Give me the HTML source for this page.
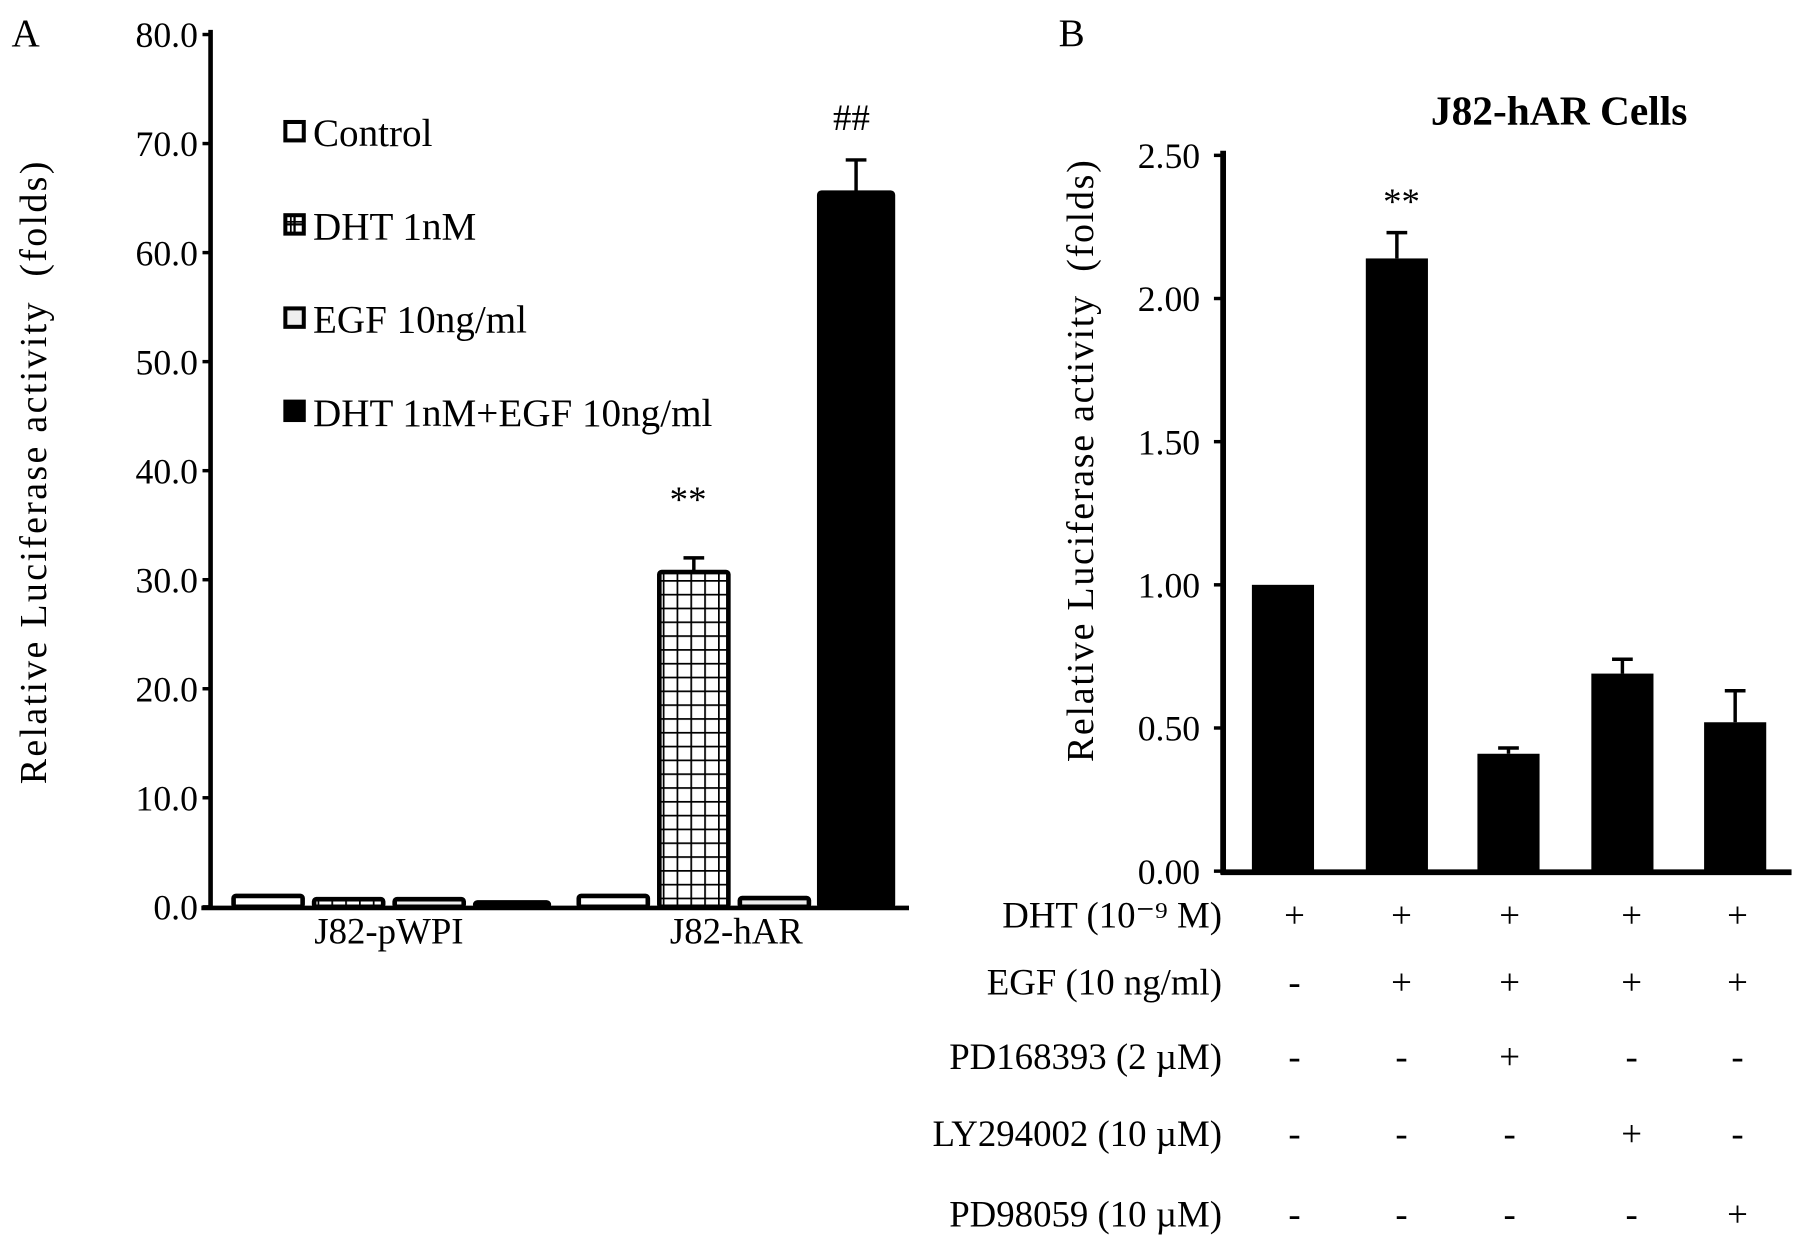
<!DOCTYPE html>
<html><head><meta charset="utf-8"><style>
html,body{margin:0;padding:0;background:#fff}
svg{display:block}
text{font-family:"Liberation Serif",serif;fill:#000}
</style></head><body>
<svg id="fig" width="1795" height="1244" viewBox="0 0 1560 1081" preserveAspectRatio="none" xmlns="http://www.w3.org/2000/svg">
<defs>
<pattern id="grid" width="12" height="12" patternUnits="userSpaceOnUse"><rect width="12" height="12" fill="#fff"/><path d="M0 0H12M0 0V12" stroke="#000" stroke-width="3"/></pattern>
</defs>
<g id="panelA"></g>
<g id="panelB"></g>
</svg>
<script>
// Panel A data
const aGroups = ["J82-pWPI", "J82-hAR"];
const aSeries = ["Control", "DHT 1nM", "EGF 10ng/ml", "DHT 1nM+EGF 10ng/ml"];
const aPWPI = [1.0, 0.7, 0.7, 0.4];
const aHAR = [1.0, 30.7, 0.8, 65.5];
const aHARerr = [0, 1.3, 0, 3.0];
const aTicks = ["0.0","10.0","20.0","30.0","40.0","50.0","60.0","70.0","80.0"];
// Panel B data
const bValues = [1.00, 2.14, 0.41, 0.69, 0.52];
const bErrors = [0, 0.09, 0.02, 0.05, 0.11];
const bTicks = ["0.00","0.50","1.00","1.50","2.00","2.50"];
const bRowLabels = ["DHT (10\u207B\u2079 M)", "EGF (10 ng/ml)", "PD168393 (2 \u00B5M)", "LY294002 (10 \u00B5M)", "PD98059 (10 \u00B5M)"];
const bRows = [["+","+","+","+","+"],["-","+","+","+","+"],["-","-","+","-","-"],["-","-","-","+","-"],["-","-","-","-","+"]];

const NS="http://www.w3.org/2000/svg";
function mk(parent,tag,attrs,txt){const e=document.createElementNS(NS,tag);for(const k in attrs)e.setAttribute(k,attrs[k]);if(txt!==undefined)e.textContent=txt;parent.appendChild(e);return e;}

// Panel A
const A=document.getElementById('panelA');
const ay=v=>788-(v/80)*(788-30);
const aSlot=[[203,273,343,413],[503,573,643,712]];
const aW=[60,60,60,64];
const fills=["#fff","url(#grid)","#eee","#000"];
let t=mk(A,'text',{x:10,y:40,'font-size':34});t.textContent='A';

aTicks.forEach(s=>{const v=parseFloat(s);const y=ay(v);
 const l=mk(A,'line',{x1:176,x2:184,y1:y,y2:y,stroke:'#000','stroke-width':3});
 
 const tx=mk(A,'text',{x:172,y:y+11,'font-size':31,'text-anchor':'end'},s);
 });
[aPWPI,aHAR].forEach((vals,g)=>{vals.forEach((v,i)=>{
 const x=aSlot[g][i],w=aW[i],y=ay(v);
 const r=mk(A,'rect',{x:x,y:y,width:w,height:ay(0)-y,fill:fills[i],stroke:'#000','stroke-width':4,rx:2});
 
 if(g===1&&aHARerr[i]>0){const cx=x+w/2;const ye=ay(v+aHARerr[i]);
  const e=mk(A,'path',{d:`M${cx} ${y} V${ye} M${cx-9} ${ye} H${cx+9}`,stroke:'#000','stroke-width':3,fill:'none'});
  }
});});
let ax=mk(A,'path',{d:'M183 26 V790 M175 789 H790',stroke:'#000','stroke-width':4,fill:'none'});

[[338,'J82-pWPI'],[640,'J82-hAR']].forEach(([x,s])=>{const e=mk(A,'text',{x:x,y:820,'font-size':32,'text-anchor':'middle'},s);
 });
let st=mk(A,'text',{x:598,y:445,'font-size':32,'text-anchor':'middle'},'**');
st=mk(A,'text',{x:740,y:113,'font-size':32,'text-anchor':'middle'},'##');
let yl=mk(A,'text',{transform:'translate(40,410) rotate(-90)','font-size':33,'letter-spacing':'2','text-anchor':'middle'},'Relative Luciferase activity\u00A0\u00A0(folds)');

aSeries.forEach((s,i)=>{const y=115+i*81;
 const g=mk(A,'g',{});
 mk(g,'rect',{x:248,y:y-9,width:16,height:16,fill:i===1?'url(#grid)':fills[i],stroke:'#000','stroke-width':3.5});
 if(i===1)mk(g,'path',{d:`M256 ${y-9}V${y+7}M248 ${y-1}H264`,stroke:'#000','stroke-width':2});
 mk(g,'text',{x:272,y:y+12,'font-size':34},s);});

// Panel B
const B=document.getElementById('panelB');
const by=v=>757-(v/2.5)*(757-135);
const bX=[1088,1187,1284,1383,1481];
t=mk(B,'text',{x:920,y:40,'font-size':34},'B');
t=mk(B,'text',{x:1355,y:108,'font-size':36,'font-weight':'bold','text-anchor':'middle'},'J82-hAR Cells');

bTicks.forEach(s=>{const y=by(parseFloat(s));
 const l=mk(B,'line',{x1:1055,x2:1064,y1:y,y2:y,stroke:'#000','stroke-width':3});
 
 const tx=mk(B,'text',{x:1043,y:y+11,'font-size':31,'text-anchor':'end'},s);
 });
bValues.forEach((v,i)=>{const x=bX[i],w=54,y=by(v);
 const r=mk(B,'rect',{x:x,y:y,width:w,height:by(0)-y,fill:'#000'});
 
 if(bErrors[i]>0){const cx=x+w/2,ye=by(v+bErrors[i]);
  const e=mk(B,'path',{d:`M${cx} ${y} V${ye} M${cx-9} ${ye} H${cx+9}`,stroke:'#000','stroke-width':3,fill:'none'});
  }});
ax=mk(B,'path',{d:'M1063 131 V760 M1061 758 H1557',stroke:'#000','stroke-width':5,fill:'none'});

st=mk(B,'text',{x:1218,y:186,'font-size':32,'text-anchor':'middle'},'**');
yl=mk(B,'text',{transform:'translate(950,400) rotate(-90)','font-size':33,'letter-spacing':'1.5','text-anchor':'middle'},'Relative Luciferase activity\u00A0\u00A0(folds)');

const rowY=[795,853,918,985,1055];
const colX=[1125,1218,1312,1418,1510];
bRowLabels.forEach((s,r)=>{const e=mk(B,'text',{x:1062,y:rowY[r]+11,'font-size':32,'text-anchor':'end'},s);
 
 bRows[r].forEach((c,i)=>{const x=colX[i];
  const m=mk(B,'text',{x:x,y:rowY[r]+11,'font-size':32,'text-anchor':'middle'},c);
  });});
</script>
</body></html>
